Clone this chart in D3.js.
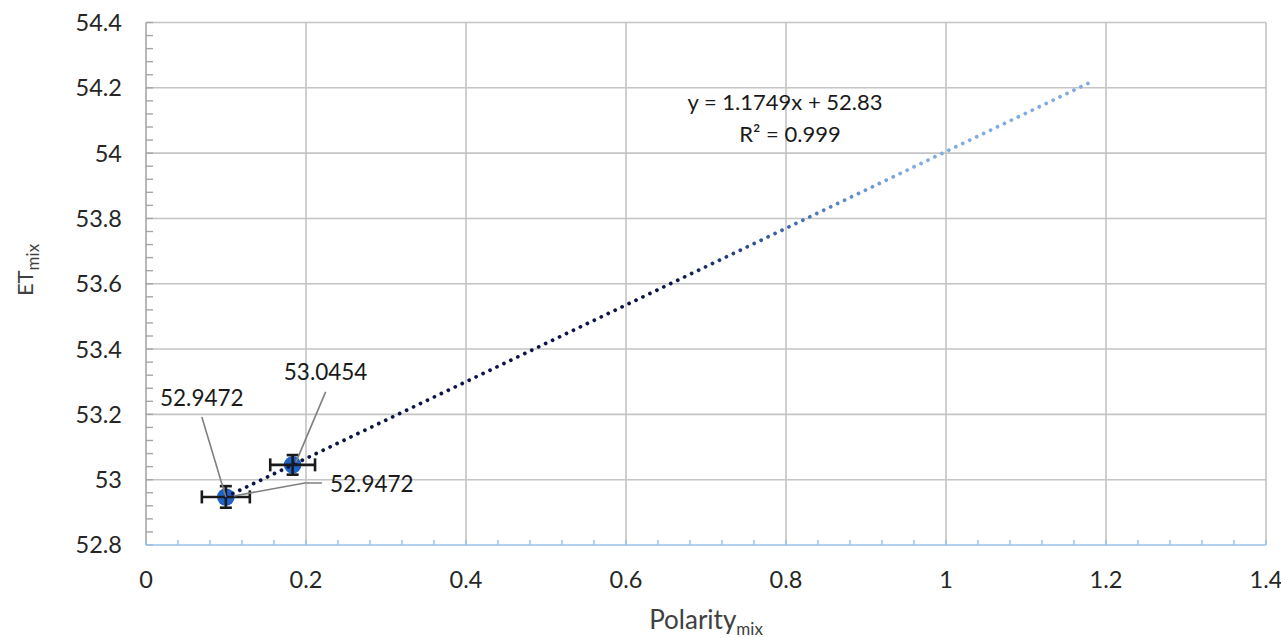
<!DOCTYPE html>
<html>
<head>
<meta charset="utf-8">
<script src="https://cdn.jsdelivr.net/npm/d3@7/dist/d3.min.js"></script>
<style>
	html, body { margin: 0; padding: 0; background: #fff; }
	svg { display: block; font-family: Lato, "Open Sans", sans-serif; }
</style>
</head>
<body>
<svg id="chart" width="1281" height="638"></svg>
<script>
// data
const polarity = [0.0998, 0.1833]
const etMix = [52.9472, 53.0454]
const polarityErr = [0.03, 0.028]
const etErr = [0.033, 0.03]
const labelText = ['52.9472', '53.0454', '52.9472']
const labelPoint = [0, 1, 0]
const xTicks = [0, 0.2, 0.4, 0.6, 0.8, 1, 1.2, 1.4]
const yTicks = [52.8, 53, 53.2, 53.4, 53.6, 53.8, 54, 54.2, 54.4]
const trendSlope = 1.1749
const trendIntercept = 52.83
const trendRange = [0.0998, 1.18]

const width = 1281, height = 638
const margin = { top: 22.5, right: 15, bottom: 93, left: 146 }

const svg = d3.select('#chart')

const x = d3.scaleLinear().domain([0, 1.4]).range([margin.left, width - margin.right])
const y = d3.scaleLinear().domain([52.8, 54.4]).range([height - margin.bottom, margin.top])

const minorX = d3.range(0, 1.4001, 0.04)
const minorY = d3.range(52.8, 54.4001, 0.04)

// gridlines
svg.append('g')
	.selectAll('line')
	.data(yTicks.slice(1))
	.join('line')
	.attr('x1', x(0)).attr('x2', x(1.4))
	.attr('y1', d => y(d)).attr('y2', d => y(d))
	.attr('stroke', '#c4c4c4').attr('stroke-width', 1.6)

svg.append('g')
	.selectAll('line')
	.data(xTicks.slice(1))
	.join('line')
	.attr('x1', d => x(d)).attr('x2', d => x(d))
	.attr('y1', y(54.4)).attr('y2', y(52.8))
	.attr('stroke', '#c4c4c4').attr('stroke-width', 1.6)

// left axis, minor ticks pointing in
const yAxis = svg.append('g')
yAxis.append('line')
	.attr('x1', x(0)).attr('x2', x(0))
	.attr('y1', y(54.4)).attr('y2', y(52.8))
	.attr('stroke', '#a6a6a6').attr('stroke-width', 1.6)
yAxis.selectAll('.minor')
	.data(minorY)
	.join('line')
	.attr('x1', x(0)).attr('x2', x(0) + 7)
	.attr('y1', d => y(d)).attr('y2', d => y(d))
	.attr('stroke', '#a6a6a6').attr('stroke-width', 1.4)
yAxis.selectAll('text')
	.data(yTicks)
	.join('text')
	.attr('x', x(0) - 24)
	.attr('y', d => y(d))
	.attr('dy', '0.36em')
	.attr('text-anchor', 'end')
	.attr('font-size', 23.5)
	.attr('fill', '#262626')
	.text(d => d3.format('~g')(d))

// bottom axis, light blue
const xAxis = svg.append('g')
xAxis.append('line')
	.attr('x1', x(0)).attr('x2', x(1.4))
	.attr('y1', y(52.8)).attr('y2', y(52.8))
	.attr('stroke', '#9cc0e8').attr('stroke-width', 1.6)
xAxis.selectAll('.minor')
	.data(minorX)
	.join('line')
	.attr('x1', d => x(d)).attr('x2', d => x(d))
	.attr('y1', y(52.8)).attr('y2', y(52.8) - 5)
	.attr('stroke', '#9cc0e8').attr('stroke-width', 1.4)
xAxis.selectAll('text')
	.data(xTicks)
	.join('text')
	.attr('x', d => x(d))
	.attr('y', y(52.8) + 43)
	.attr('text-anchor', 'middle')
	.attr('font-size', 23.5)
	.attr('fill', '#262626')
	.text(d => d3.format('~g')(d))

// axis titles
svg.append('text')
	.attr('x', x(0.7))
	.attr('y', 629)
	.attr('text-anchor', 'middle')
	.attr('font-size', 26)
	.attr('fill', '#404040')
	.html('Polarity<tspan font-size="17" dy="6">mix</tspan>')

svg.append('text')
	.attr('transform', 'translate(33,270) rotate(-90)')
	.attr('text-anchor', 'middle')
	.attr('font-size', 22)
	.attr('fill', '#404040')
	.html('ET<tspan font-size="17" dy="6">mix</tspan>')

const points = polarity.map((p, i) => ({ x: p, y: etMix[i], ex: polarityErr[i], ey: etErr[i] }))

// markers
svg.append('g')
	.selectAll('circle')
	.data(points)
	.join('circle')
	.attr('cx', d => x(d.x))
	.attr('cy', d => y(d.y))
	.attr('r', 8.8)
	.attr('fill', '#1e64c8')

// error bars
const err = svg.append('g').attr('stroke', '#1a1a1a').attr('stroke-width', 2.6)
points.forEach(d => {
	const cx = x(d.x), cy = y(d.y)
	err.append('line').attr('x1', x(d.x - d.ex)).attr('x2', x(d.x + d.ex)).attr('y1', cy).attr('y2', cy)
	err.append('line').attr('x1', x(d.x - d.ex)).attr('x2', x(d.x - d.ex)).attr('y1', cy - 6.5).attr('y2', cy + 6.5)
	err.append('line').attr('x1', x(d.x + d.ex)).attr('x2', x(d.x + d.ex)).attr('y1', cy - 6.5).attr('y2', cy + 6.5)
	err.append('line').attr('x1', cx).attr('x2', cx).attr('y1', y(d.y - d.ey)).attr('y2', y(d.y + d.ey))
	err.append('line').attr('x1', cx - 6).attr('x2', cx + 6).attr('y1', y(d.y - d.ey)).attr('y2', y(d.y - d.ey))
	err.append('line').attr('x1', cx - 6).attr('x2', cx + 6).attr('y1', y(d.y + d.ey)).attr('y2', y(d.y + d.ey))
})

// trendline, dotted, dark fading to light blue
const grad = svg.append('defs').append('linearGradient')
	.attr('id', 'trendGrad')
	.attr('gradientUnits', 'userSpaceOnUse')
	.attr('x1', x(0.66)).attr('x2', x(0.95))
	.attr('y1', 0).attr('y2', 0)
grad.append('stop').attr('offset', 0).attr('stop-color', '#0b1445')
grad.append('stop').attr('offset', 0.45).attr('stop-color', '#3a66a6')
grad.append('stop').attr('offset', 1).attr('stop-color', '#80acdf')

const trendLine = d3.line().x(d => x(d)).y(d => y(trendSlope * d + trendIntercept))
svg.append('path')
	.attr('d', trendLine(trendRange))
	.attr('fill', 'none')
	.attr('stroke', 'url(#trendGrad)')
	.attr('stroke-width', 3.8)
	.attr('stroke-linecap', 'round')
	.attr('stroke-dasharray', '0.01 7.7')

// data labels with leader lines (offsets relative to the point)
const labelLayout = [
	{ dx: -24, dy: -91, leader: [[-24, -80], [0, 0]] },
	{ dx: 33, dy: -85, leader: [[33, -73], [3, -2]] },
	{ dx: 146, dy: -5, leader: [[96, -14], [79, -14], [8, -1]] }
]

const labels = svg.append('g')
labelText.forEach((t, i) => {
	const p = points[labelPoint[i]]
	const px = x(p.x), py = y(p.y)
	const l = labelLayout[i]
	labels.append('path')
		.attr('d', d3.line()(l.leader.map(([a, b]) => [px + a, py + b])))
		.attr('fill', 'none')
		.attr('stroke', '#7f7f7f')
		.attr('stroke-width', 1.6)
	labels.append('text')
		.attr('x', px + l.dx)
		.attr('y', py + l.dy)
		.attr('text-anchor', 'middle')
		.attr('font-size', 22.5)
		.attr('fill', '#1a1a1a')
		.text(t)
})

// equation
svg.append('text')
	.attr('x', 785).attr('y', 110)
	.attr('text-anchor', 'middle')
	.attr('font-size', 22)
	.attr('fill', '#1a1a1a')
	.text(`y = ${trendSlope}x + ${trendIntercept}`)
svg.append('text')
	.attr('x', 790).attr('y', 142)
	.attr('text-anchor', 'middle')
	.attr('font-size', 22)
	.attr('fill', '#1a1a1a')
	.text('R² = 0.999')
</script>
</body>
</html>
